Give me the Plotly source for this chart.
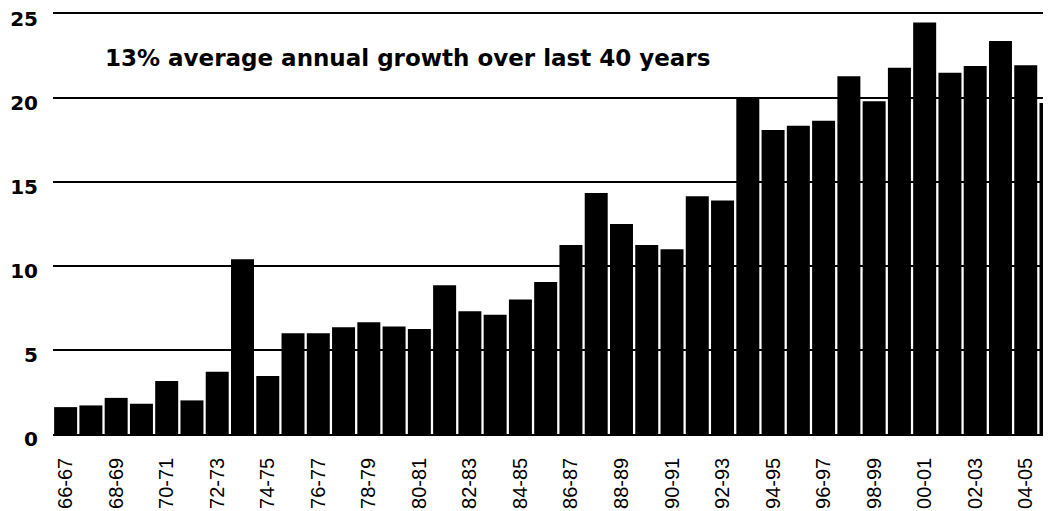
import plotly.graph_objects as go

years = ["66-67", "67-68", "68-69", "69-70", "70-71", "71-72", "72-73", "73-74", "74-75", "75-76",
         "76-77", "77-78", "78-79", "79-80", "80-81", "81-82", "82-83", "83-84", "84-85", "85-86",
         "86-87", "87-88", "88-89", "89-90", "90-91", "91-92", "92-93", "93-94", "94-95", "95-96",
         "96-97", "97-98", "98-99", "99-00", "00-01", "01-02", "02-03", "03-04", "04-05", "05-06"]
values = [1.6, 1.7, 2.15, 1.8, 3.15, 2.0, 3.7, 10.4, 3.45, 6.0,
          6.0, 6.35, 6.65, 6.4, 6.25, 8.85, 7.3, 7.1, 8.0, 9.05,
          11.25, 14.35, 12.5, 11.25, 11.0, 14.15, 13.9, 20.05, 18.1, 18.35,
          18.65, 21.3, 19.8, 21.8, 24.5, 21.5, 21.9, 23.4, 21.95, 19.7]
tick_labels = years[::2]
y_ticks = [0, 5, 10, 15, 20, 25]
note = "13% average annual growth over last 40 years"

font_x = "Liberation Sans, Arial, sans-serif"
font_b = "DejaVu Sans, Liberation Sans, sans-serif"

fig = go.Figure(go.Bar(x=years, y=values, marker=dict(color="black", line=dict(width=0))))

# page body has an 8px margin, so the figure is sized/placed to compensate
fig.update_layout(
    width=1043, height=503,
    margin=dict(l=45, r=0, t=6, b=77, autoexpand=False),
    paper_bgcolor="white", plot_bgcolor="white",
    bargap=0.09,
    showlegend=False,
    font=dict(family=font_x, color="black"),
)
fig.update_xaxes(
    type="category",
    categoryorder="array", categoryarray=years,
    range=[-0.5, 39.0],
    tickmode="array", tickvals=tick_labels, ticktext=tick_labels,
    tickangle=-90,
    tickfont=dict(family=font_x, size=20, color="black"),
    showgrid=False, zeroline=False,
    showline=True, mirror=True, linecolor="black", linewidth=1.5,
    ticks="", ticklabelstandoff=14, ticklabeloverflow="allow",
)
fig.update_yaxes(
    range=[0, 25],
    tickmode="array", tickvals=y_ticks,
    tickfont=dict(family=font_b, size=20, color="black", weight="bold"),
    showgrid=True, gridcolor="black", gridwidth=1.5,
    zeroline=False, showline=False, ticks="", ticklabelstandoff=14,
    ticklabelshift=5, ticklabeloverflow="allow",
)
fig.add_annotation(
    text=note, xref="paper", yref="y", x=(103 - 53) / 998, y=22.4,
    xanchor="left", yanchor="middle", showarrow=False,
    font=dict(family=font_b, size=23, color="black", weight="bold"),
)

fig.write_html("out.html")
